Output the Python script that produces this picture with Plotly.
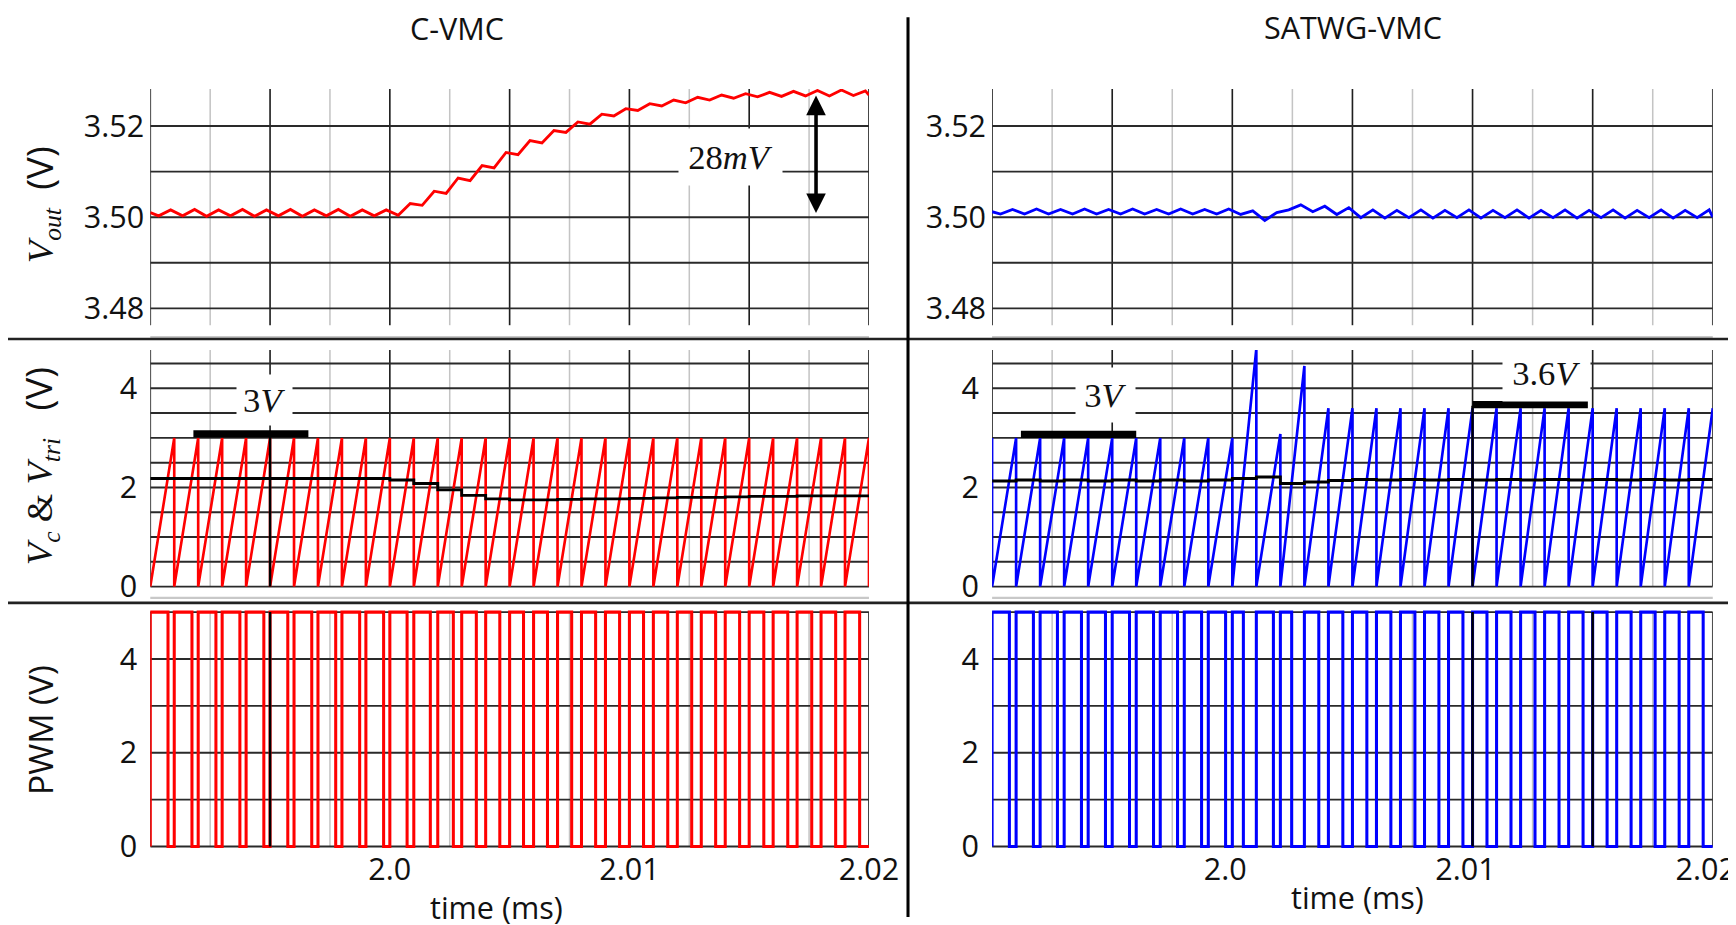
import plotly.graph_objects as go

# ---------------- data ----------------
# switching-cycle boundaries (ms), period 1 us
cycle_edges = [1.990, 1.991, 1.992, 1.993, 1.994, 1.995, 1.996, 1.997, 1.998, 1.999,
               2.000, 2.001, 2.002, 2.003, 2.004, 2.005, 2.006, 2.007, 2.008, 2.009,
               2.010, 2.011, 2.012, 2.013, 2.014, 2.015, 2.016, 2.017, 2.018, 2.019, 2.020]

# ---- C-VMC ----
cvmc_vout_start = 3.5010
cvmc_vout_trough = [3.5003, 3.5003, 3.5002, 3.5003, 3.5002, 3.5003, 3.5002, 3.5003, 3.5002, 3.5003,
                    3.5004, 3.5026, 3.5052, 3.5080, 3.5108, 3.5137, 3.5163, 3.5186, 3.5204, 3.5222,
                    3.5234, 3.5244, 3.5251, 3.5257, 3.5261, 3.5264, 3.5265, 3.5266, 3.5266, 3.5267]
cvmc_vout_peak = [3.5016, 3.5017, 3.5016, 3.5017, 3.5016, 3.5017, 3.5016, 3.5017, 3.5016, 3.5016,
                  3.5030, 3.5057, 3.5086, 3.5113, 3.5142, 3.5168, 3.5190, 3.5209, 3.5226, 3.5238,
                  3.5249, 3.5257, 3.5263, 3.5268, 3.5271, 3.5274, 3.5276, 3.5278, 3.5279, 3.5277]
cvmc_vout_end = 3.5268
cvmc_tri_peak = [3.0, 3.0, 3.0, 3.0, 3.0, 3.0, 3.0, 3.0, 3.0, 3.0,
                 3.0, 3.0, 3.0, 3.0, 3.0, 3.0, 3.0, 3.0, 3.0, 3.0,
                 3.0, 3.0, 3.0, 3.0, 3.0, 3.0, 3.0, 3.0, 3.0, 3.0]
cvmc_vc = [2.18, 2.18, 2.18, 2.18, 2.18, 2.18, 2.18, 2.18, 2.18, 2.18,
           2.15, 2.08, 1.95, 1.84, 1.77, 1.75, 1.75, 1.76, 1.77, 1.77,
           1.78, 1.79, 1.80, 1.80, 1.81, 1.82, 1.82, 1.83, 1.83, 1.83]
cvmc_duty = [0.74, 0.74, 0.74, 0.74, 0.74, 0.74, 0.74, 0.74, 0.74, 0.74,
             0.72, 0.69, 0.65, 0.61, 0.59, 0.58, 0.58, 0.59, 0.59, 0.59,
             0.59, 0.60, 0.60, 0.60, 0.60, 0.61, 0.61, 0.61, 0.61, 0.61]

# ---- SATWG-VMC ----
satwg_vout_start = 3.5012
satwg_vout_trough = [3.5007, 3.5007, 3.5007, 3.5007, 3.5007, 3.5007, 3.5007, 3.5007, 3.5007, 3.5007,
                     3.5006, 3.4993, 3.5016, 3.5012, 3.5006, 3.4999, 3.4998, 3.4999, 3.4998, 3.4999,
                     3.4998, 3.4999, 3.4998, 3.4999, 3.4998, 3.4999, 3.4998, 3.4999, 3.4998, 3.4999]
satwg_vout_peak = [3.5017, 3.5018, 3.5017, 3.5018, 3.5017, 3.5018, 3.5017, 3.5018, 3.5017, 3.5018,
                   3.5014, 3.5010, 3.5027, 3.5024, 3.5021, 3.5016, 3.5015, 3.5016, 3.5015, 3.5016,
                   3.5015, 3.5016, 3.5015, 3.5016, 3.5015, 3.5016, 3.5015, 3.5016, 3.5015, 3.5016]
satwg_vout_end = 3.5000
satwg_tri_start = 3.0
satwg_tri_peak = [3.0, 3.0, 3.0, 3.0, 3.0, 3.0, 3.0, 3.0, 3.0, 3.0,
                  4.8, 3.08, 4.45, 3.6, 3.6, 3.6, 3.6, 3.6, 3.6, 3.6,
                  3.6, 3.6, 3.6, 3.6, 3.6, 3.6, 3.6, 3.6, 3.6, 3.6]
satwg_vc = [2.13, 2.15, 2.13, 2.15, 2.13, 2.15, 2.13, 2.15, 2.13, 2.15,
            2.18, 2.21, 2.08, 2.11, 2.14, 2.16, 2.15, 2.16, 2.15, 2.16,
            2.15, 2.16, 2.15, 2.16, 2.15, 2.16, 2.15, 2.16, 2.15, 2.16]
satwg_duty = [0.72, 0.72, 0.72, 0.72, 0.72, 0.72, 0.72, 0.72, 0.72, 0.72,
              0.46, 0.71, 0.47, 0.60, 0.60, 0.60, 0.60, 0.60, 0.60, 0.60,
              0.60, 0.60, 0.60, 0.60, 0.60, 0.60, 0.60, 0.60, 0.60, 0.60]

pwm_high = 5.0
x_ticks = [2.0, 2.01, 2.02]
x_ticktext = ["2.0", "2.01", "2.02"]
vout_ticks = [3.48, 3.50, 3.52]
vout_ticktext = ["3.48", "3.50", "3.52"]
v_ticks = [0, 2, 4]

grid_major_t = [1.990, 1.995, 2.000, 2.005, 2.010, 2.015, 2.020]
grid_minor_t = [1.9925, 1.9975, 2.0025, 2.0075, 2.0125, 2.0175]
grid_vout = [3.48, 3.49, 3.50, 3.51, 3.52]
grid_vtri = [0, 0.5, 1.0, 1.5, 2.0, 2.5, 3.0, 3.5, 4.0, 4.5]
grid_pwm = [0, 1, 2, 3, 4, 5]

# ---------------- waveform construction ----------------
T = cycle_edges[1] - cycle_edges[0]
TROUGH_PHASE, PEAK_PHASE = 0.35, 0.85


def vout_wave(start, troughs, peaks, end):
    xs, ys = [cycle_edges[0]], [start]
    for k in range(len(troughs)):
        xs += [cycle_edges[k] + TROUGH_PHASE * T, cycle_edges[k] + PEAK_PHASE * T]
        ys += [troughs[k], peaks[k]]
    xs.append(cycle_edges[-1]); ys.append(end)
    return xs, ys


def saw_wave(peaks, start_level=None, end_drop=True):
    xs, ys = [], []
    if start_level is not None:
        xs.append(cycle_edges[0]); ys.append(start_level)
    for k, p in enumerate(peaks):
        xs += [cycle_edges[k], cycle_edges[k + 1]]
        ys += [0, p]
        if end_drop or k < len(peaks) - 1:
            xs.append(cycle_edges[k + 1]); ys.append(0)
    return xs, ys


def step_wave(vals):
    return list(cycle_edges), list(vals) + [vals[-1]]


def pwm_wave(duty):
    xs, ys = [], []
    for k, d in enumerate(duty):
        t0 = cycle_edges[k]
        toff = t0 + d * T
        xs += [t0, t0, toff, toff]
        ys += [0, pwm_high, pwm_high, 0]
    xs.append(cycle_edges[-1]); ys.append(0)
    return xs, ys


# ---------------- page geometry ----------------
# The photographed page comes out uniformly scaled by about 0.982 and the body keeps
# its 8 px margin, so target window pixels are converted to figure pixels here.
S = 0.982
OFF = 8
FIG_W, FIG_H = 1759, 926


def px_x(p):
    return (p / S - OFF) / FIG_W


def px_y(p):
    return 1 - (p / S - OFF) / FIG_H


def sz(v):
    return v / S


RED = "#ff0000"
BLUE = "#0000ff"

fig = go.Figure()

panels = {
    "topL": ("x", "y"), "midL": ("x2", "y2"), "pwmL": ("x3", "y3"),
    "topR": ("x4", "y4"), "midR": ("x5", "y5"), "pwmR": ("x6", "y6"),
}

for side, color, vstart, vtr, vpk, vend, tri, tri_start, tri_end_drop, vc, duty in [
    ("L", RED, cvmc_vout_start, cvmc_vout_trough, cvmc_vout_peak, cvmc_vout_end,
     cvmc_tri_peak, None, True, cvmc_vc, cvmc_duty),
    ("R", BLUE, satwg_vout_start, satwg_vout_trough, satwg_vout_peak, satwg_vout_end,
     satwg_tri_peak, satwg_tri_start, False, satwg_vc, satwg_duty),
]:
    xa, ya = panels["top" + side]
    x, y = vout_wave(vstart, vtr, vpk, vend)
    fig.add_trace(go.Scatter(x=x, y=y, mode="lines", line=dict(color=color, width=sz(2.8)),
                             xaxis=xa, yaxis=ya, showlegend=False, hoverinfo="skip"))
    xa, ya = panels["mid" + side]
    x, y = saw_wave(tri, tri_start, tri_end_drop)
    fig.add_trace(go.Scatter(x=x, y=y, mode="lines", line=dict(color=color, width=sz(2.6)),
                             xaxis=xa, yaxis=ya, showlegend=False, hoverinfo="skip"))
    x, y = step_wave(vc)
    fig.add_trace(go.Scatter(x=x, y=y, mode="lines",
                             line=dict(color="#000000", width=sz(2.8), shape="hv"),
                             xaxis=xa, yaxis=ya, showlegend=False, hoverinfo="skip"))
    xa, ya = panels["pwm" + side]
    x, y = pwm_wave(duty)
    fig.add_trace(go.Scatter(x=x, y=y, mode="lines", line=dict(color=color, width=sz(3.0)),
                             xaxis=xa, yaxis=ya, showlegend=False, hoverinfo="skip"))

# ---------------- layout ----------------
xdomL = [px_x(150), px_x(868)]
xdomR = [px_x(991), px_x(1711)]
ydom_top = [px_y(337), px_y(89)]
ydom_mid = [px_y(598), px_y(350)]
ydom_pwm = [px_y(849), px_y(609)]

range_top = [3.47371, 3.52810]
range_mid = [-0.228, 4.772]
range_pwm = [-0.049, 5.068]

TICKFONT = dict(family="Open Sans", size=sz(30), color="#111111")

layout = dict(
    width=FIG_W, height=FIG_H, autosize=False,
    margin=dict(l=0, r=0, t=0, b=0),
    paper_bgcolor="white", plot_bgcolor="white",
    showlegend=False,
)

axis_specs = [
    ("", xdomL, ydom_top, range_top, vout_ticks, vout_ticktext, False, 5, 0),
    ("2", xdomL, ydom_mid, range_mid, v_ticks, None, False, 12, 0),
    ("3", xdomL, ydom_pwm, range_pwm, v_ticks, None, True, 12, 0),
    ("4", xdomR, ydom_top, range_top, vout_ticks, vout_ticktext, False, 5, 0),
    ("5", xdomR, ydom_mid, range_mid, v_ticks, None, False, 12, 0),
    ("6", xdomR, ydom_pwm, range_pwm, v_ticks, None, True, 12, -7),
]
for suf, xd, yd, yr, yt, ytt, show_x, ystand, xshift in axis_specs:
    layout["xaxis" + suf] = dict(
        domain=xd, range=[cycle_edges[0], cycle_edges[-1]], anchor="y" + suf,
        showgrid=False, zeroline=False, showline=False,
        showticklabels=show_x, tickvals=x_ticks, ticktext=x_ticktext,
        ticks="", tickfont=TICKFONT, ticklabelstandoff=0, ticklabelshift=xshift,
    )
    ya = dict(
        domain=yd, range=yr, anchor="x" + suf,
        showgrid=False, zeroline=False, showline=False,
        tickvals=yt, ticks="", tickfont=TICKFONT, ticklabelstandoff=round(sz(ystand)),
    )
    if ytt:
        ya["ticktext"] = ytt
    layout["yaxis" + suf] = ya

fig.update_layout(**layout)

shapes = []
DARK = "#1e1e1e"
LIGHT = "#c4c4c4"


def add_grid(xa, ya, v_lo, v_hi, hvals):
    for t in grid_minor_t:
        shapes.append(dict(type="line", xref=xa, yref=ya, x0=t, x1=t, y0=v_lo, y1=v_hi,
                           line=dict(color=LIGHT, width=sz(1.5)), layer="below"))
    for t in grid_major_t:
        shapes.append(dict(type="line", xref=xa, yref=ya, x0=t, x1=t, y0=v_lo, y1=v_hi,
                           line=dict(color=DARK, width=sz(1.6)), layer="below"))
    for h in hvals:
        shapes.append(dict(type="line", xref=xa, yref=ya, x0=cycle_edges[0], x1=cycle_edges[-1],
                           y0=h, y1=h, line=dict(color="#2a2a2a", width=sz(1.9)), layer="below"))


for side in ["L", "R"]:
    xa, ya = panels["top" + side]
    add_grid(xa, ya, 3.4763, 3.5281, grid_vout)
    xa, ya = panels["mid" + side]
    add_grid(xa, ya, 0, 4.77, grid_vtri)
    xa, ya = panels["pwm" + side]
    add_grid(xa, ya, 0, 5.0, grid_pwm)

for xd in (xdomL, xdomR):
    for yp in (337, 598):
        shapes.append(dict(type="line", xref="paper", yref="paper", x0=xd[0], x1=xd[1],
                           y0=px_y(yp), y1=px_y(yp), line=dict(color="#c8c8c8", width=sz(2.2))))

for yp in (339, 603):
    shapes.append(dict(type="line", xref="paper", yref="paper", x0=0, x1=1,
                       y0=px_y(yp), y1=px_y(yp), line=dict(color="#222222", width=sz(2.6))))
shapes.append(dict(type="line", xref="paper", yref="paper", x0=px_x(907), x1=px_x(907),
                   y0=0, y1=px_y(17), line=dict(color="#000000", width=sz(3))))

shapes.append(dict(type="line", xref="x2", yref="y2", x0=1.9918, x1=1.9966, y0=3.08, y1=3.08,
                   line=dict(color="black", width=sz(7)), layer="above"))
shapes.append(dict(type="line", xref="x5", yref="y5", x0=1.9912, x1=1.9960, y0=3.07, y1=3.07,
                   line=dict(color="black", width=sz(7)), layer="above"))
shapes.append(dict(type="line", xref="x5", yref="y5", x0=2.0100, x1=2.0148, y0=3.67, y1=3.67,
                   line=dict(color="black", width=sz(7)), layer="above"))

shapes.append(dict(type="line", xref="x2", yref="y2", x0=1.995, x1=1.995, y0=0, y1=3.06,
                   line=dict(color="black", width=sz(2.4)), layer="above"))
shapes.append(dict(type="line", xref="x3", yref="y3", x0=1.995, x1=1.995, y0=0, y1=5.0,
                   line=dict(color="black", width=sz(2.4)), layer="above"))
shapes.append(dict(type="line", xref="x5", yref="y5", x0=2.010, x1=2.010, y0=0, y1=3.65,
                   line=dict(color="black", width=sz(2.4)), layer="above"))
for t in (2.010, 2.015):
    shapes.append(dict(type="line", xref="x6", yref="y6", x0=t, x1=t, y0=0, y1=5.0,
                       line=dict(color="black", width=sz(2.4)), layer="above"))

fig.update_layout(shapes=shapes)

SANS = "Open Sans"
SERIF = "Liberation Serif"
C = dict(xanchor="center", yanchor="middle", showarrow=False)
ann = []
ann.append(dict(text="C-VMC", xref="paper", yref="paper", x=px_x(456), y=px_y(28),
                font=dict(family=SANS, size=sz(30), color="#111"), **C))
ann.append(dict(text="SATWG-VMC", xref="paper", yref="paper", x=px_x(1352), y=px_y(27),
                font=dict(family=SANS, size=sz(30), color="#111"), **C))
ann.append(dict(text="time (ms)", xref="paper", yref="paper", x=px_x(496), y=px_y(907),
                font=dict(family=SANS, size=sz(30), color="#111"), **C))
ann.append(dict(text="time (ms)", xref="paper", yref="paper", x=px_x(1356), y=px_y(897),
                font=dict(family=SANS, size=sz(30), color="#111"), **C))
sp = "<span style='font-family:Open Sans'>(V)</span>"
ann.append(dict(text="<i>V</i><sub><i>out</i></sub>  " + sp, xref="paper", yref="paper",
                x=px_x(40), y=px_y(205), textangle=-90,
                font=dict(family=SERIF, size=sz(36), color="#111"), **C))
ann.append(dict(text="<i>V</i><sub><i>c</i></sub> &amp; <i>V</i><sub><i>tri</i></sub>   " + sp,
                xref="paper", yref="paper", x=px_x(40), y=px_y(466), textangle=-90,
                font=dict(family=SERIF, size=sz(36), color="#111"), **C))
ann.append(dict(text="PWM (V)", xref="paper", yref="paper", x=px_x(40), y=px_y(730),
                textangle=-90, font=dict(family=SANS, size=sz(33), color="#111"), **C))

LBL = dict(family=SERIF, size=sz(34), color="#111")
ann.append(dict(text="28<i>mV</i>", xref="x", yref="y", x=2.0142, y=3.5133,
                font=LBL, bgcolor="white", borderpad=sz(9), **C))
ann.append(dict(text="3<i>V</i>", xref="x2", yref="y2", x=1.99476, y=3.76,
                font=LBL, bgcolor="white", borderpad=sz(6), **C))
ann.append(dict(text="3<i>V</i>", xref="x5", yref="y5", x=1.99471, y=3.86,
                font=LBL, bgcolor="white", borderpad=sz(8), **C))
ann.append(dict(text="3.6<i>V</i>", xref="x5", yref="y5", x=2.01308, y=4.30,
                font=LBL, bgcolor="white", borderpad=sz(9), **C))
ann.append(dict(text="", xref="x", yref="y", axref="x", ayref="y",
                x=2.01779, y=3.5009, ax=2.01779, ay=3.5270,
                showarrow=True, arrowside="end+start", arrowhead=2, arrowsize=1.1,
                arrowwidth=sz(3.5), arrowcolor="black"))

fig.update_layout(annotations=ann)

fig.write_html("out.html", config={"displayModeBar": False})
